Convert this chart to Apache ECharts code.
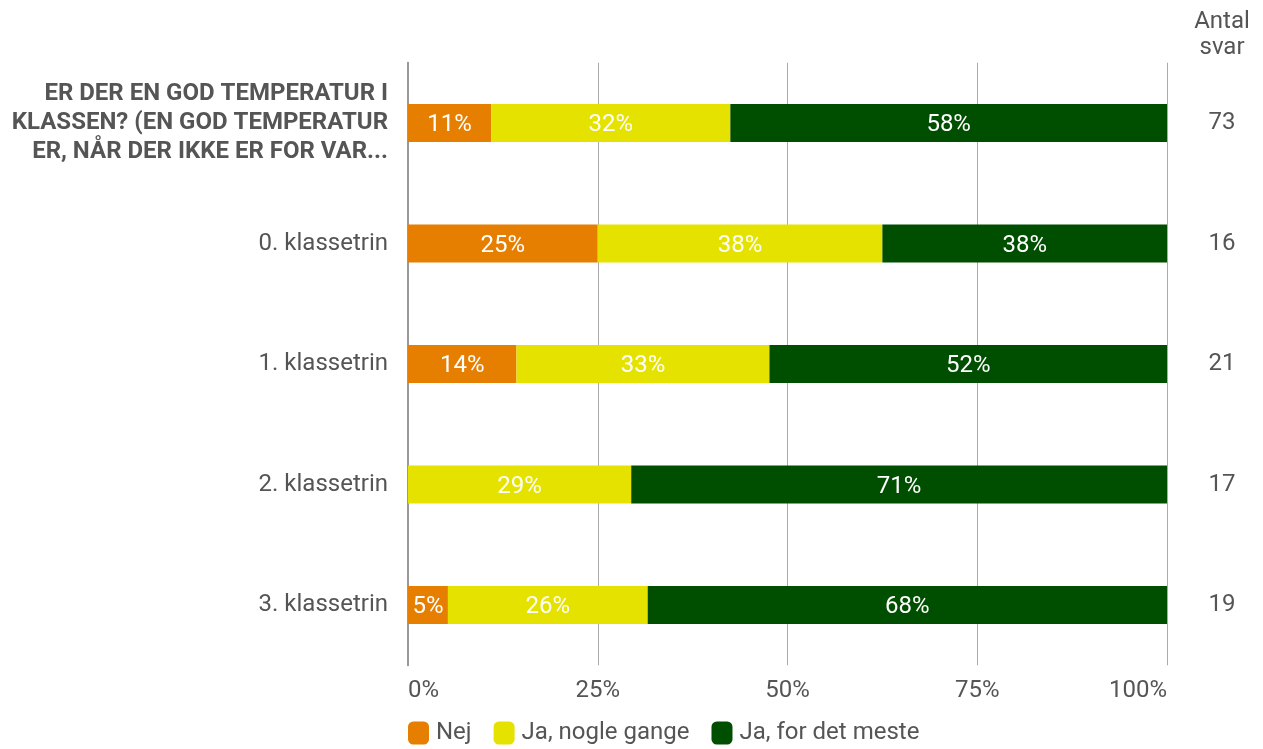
<!DOCTYPE html>
<html>
<head>
<meta charset="utf-8">
<script src="https://cdn.jsdelivr.net/npm/echarts@6/dist/echarts.min.js"></script>
<style>html,body{margin:0;padding:0;background:#fff}#c{width:1263px;height:749px}</style>
</head>
<body>
<div id="c"></div>
<script>
const categories = ['ER DER EN GOD TEMPERATUR I\nKLASSEN? (EN GOD TEMPERATUR\nER, NÅR DER IKKE ER FOR VAR...', '0. klassetrin', '1. klassetrin', '2. klassetrin', '3. klassetrin'];
const counts = ['73', '16', '21', '17', '19'];
const seriesNames = ['Nej', 'Ja, nogle gange', 'Ja, for det meste'];
const nej = [10.96, 25, 14.29, 0, 5.26];
const nogleGange = [31.51, 37.5, 33.33, 29.41, 26.32];
const detMeste = [57.53, 37.5, 52.38, 70.59, 68.42];
const xTicks = ['0%', '25%', '50%', '75%', '100%'];
const colors = ['#E67E00', '#E6E200', '#004F00'];

const chart = echarts.init(document.getElementById('c'));
const font = 'Roboto';
const fs = 24;
function mk(name, data, color) {
  return {
    name: name, type: 'bar', stack: 'all', data: data, barWidth: 38,
    itemStyle: { color: color },
    label: {
      show: true, position: 'inside', color: '#fff', fontFamily: font, fontSize: fs, offset: [0, 2],
      formatter: p => p.value > 0 ? Math.round(p.value) + '%' : ''
    },
    emphasis: { disabled: true }
  };
}
chart.setOption({
  animation: false,
  textStyle: { fontFamily: font },
  grid: { left: 408, right: 96, top: 62.75, bottom: 83.75, containLabel: false },
  xAxis: {
    type: 'value', min: 0, max: 100, interval: 25,
    axisLine: { show: false }, axisTick: { show: false },
    splitLine: { show: true, lineStyle: { color: '#aaa', width: 1 } },
    axisLabel: { color: '#555', fontSize: fs, margin: 14, fontFamily: font,
      alignMinLabel: 'left', alignMaxLabel: 'right',
      formatter: v => xTicks[Math.round(v / 25)] }
  },
  yAxis: [{
    type: 'category', data: categories, inverse: true,
    axisLine: { show: true, lineStyle: { color: '#999', width: 2 } },
    axisTick: { show: false },
    axisLabel: {
      color: '#555', fontSize: fs, margin: 20, fontFamily: font, align: 'right',
      formatter: (v, i) => i === 0 ? '{b|' + v + '}' : v,
      rich: { b: { fontWeight: 'bold', fontSize: fs, lineHeight: 29, color: '#555', fontFamily: font, align: 'right' } }
    }
  }, {
    type: 'category', data: counts, inverse: true, position: 'right',
    axisLine: { show: false }, axisTick: { show: false },
    axisLabel: { color: '#555', fontSize: fs, margin: 55, align: 'center', fontFamily: font }
  }],
  legend: {
    left: 403, top: 716, itemWidth: 21, itemHeight: 23, itemGap: 22,
    icon: 'roundRect',
    textStyle: { color: '#555', fontSize: fs, fontFamily: font, padding: [0, 0, 0, 2] },
    data: seriesNames
  },
  graphic: [{
    type: 'text', x: 1222, y: 9,
    style: { text: 'Antal\nsvar', fill: '#555', font: '24px Roboto', textAlign: 'center', lineHeight: 26 }
  }],
  series: [mk(seriesNames[0], nej, colors[0]), mk(seriesNames[1], nogleGange, colors[1]), mk(seriesNames[2], detMeste, colors[2])]
});
</script>
</body>
</html>
